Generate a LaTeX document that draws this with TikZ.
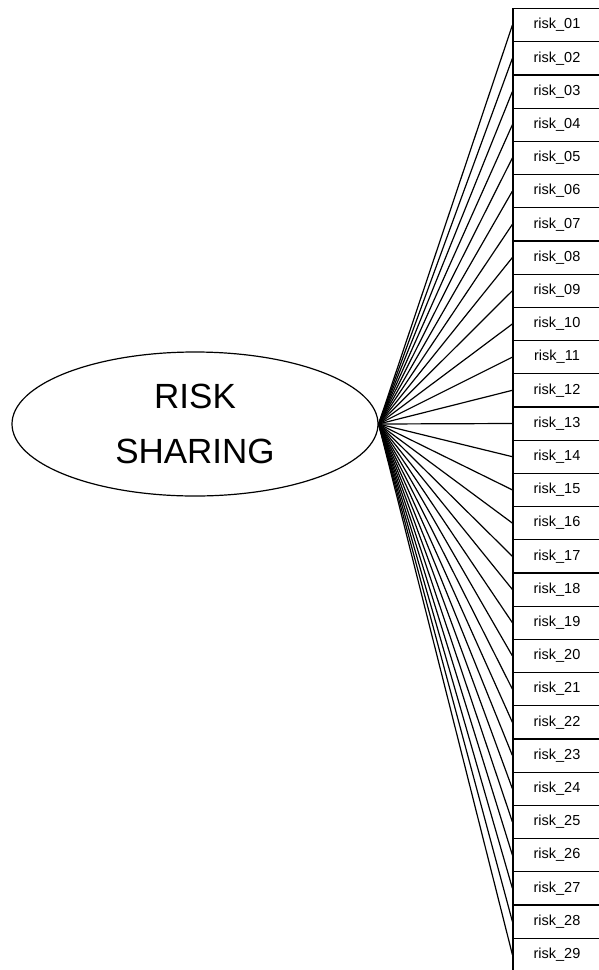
\documentclass[tikz,border=0pt]{standalone}
\usepackage{fontspec}
\setmainfont{Liberation Sans}
\usetikzlibrary{shapes.geometric}

\begin{document}
\begin{tikzpicture}[x=1pt,y=-1pt,line width=1.2pt,
  latent/.style={draw,ellipse,minimum width=366pt,minimum height=144pt,inner sep=0pt,
    align=center,font=\fontsize{35}{55}\selectfont},
  item/.style={draw,rectangle,minimum width=89pt,minimum height=33.2pt,inner sep=0pt,
    font=\fontsize{14.5}{16}\selectfont}]
  \useasboundingbox (0,0) rectangle (598,970);
  \node[latent] (share) at (195,424) {RISK\\SHARING};
  % indicator boxes and their paths
  \foreach \i in {1,...,29}{
    \node[item] (r\i) at (557.5,{8.5+33.2*(\i-1)+16.6}) {\hspace*{-1pt}risk\_\ifnum\i<10 0\fi\i};
    \draw (share.east) -- (r\i.west);
  }
\end{tikzpicture}
\end{document}
